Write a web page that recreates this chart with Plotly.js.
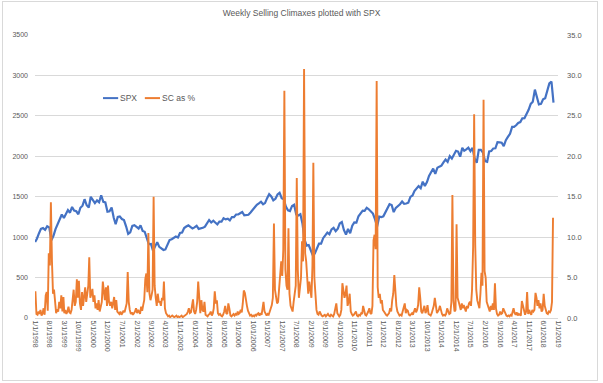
<!DOCTYPE html>
<html>
<head>
<meta charset="utf-8">
<script src="https://cdn.plot.ly/plotly-3.0.1.min.js"></script>
<style>
html,body{margin:0;padding:0;background:#fff;}
#wrap{position:relative;width:603px;height:383px;}
#chart{position:absolute;left:0;top:0;width:603px;height:383px;}
#frame{position:absolute;left:2px;top:1px;width:594px;height:378px;border:1px solid #d9d9d9;pointer-events:none;}
</style>
</head>
<body>
<div id="wrap"><div id="chart"></div><div id="frame"></div></div>
<script>
// ---- Data ----
// SPX, one value per month (month-end), Jan 1998 .. Oct 2018, plus start value
const spxStart = 940;
const spxMonthly = [
  980,1049,1102,1112,1091,1134,1121,960,1017,1099,1164,1229,      // 1998
  1280,1238,1286,1335,1302,1373,1329,1320,1283,1363,1389,1469,    // 1999
  1394,1366,1499,1452,1421,1455,1431,1518,1437,1429,1315,1320,    // 2000
  1366,1240,1160,1249,1256,1224,1211,1134,1041,1060,1139,1148,    // 2001
  1130,1107,1147,1077,1067,990,912,916,830,886,936,880,           // 2002
  856,841,848,917,964,975,990,1008,996,1051,1058,1112,            // 2003
  1131,1145,1126,1107,1121,1141,1102,1104,1115,1130,1174,1212,    // 2004
  1181,1204,1181,1157,1192,1191,1234,1220,1229,1207,1249,1248,    // 2005
  1280,1281,1295,1311,1270,1270,1277,1304,1336,1378,1401,1418,    // 2006
  1438,1407,1421,1482,1531,1503,1455,1474,1527,1549,1481,1468,    // 2007
  1379,1331,1323,1386,1400,1280,1267,1283,1165,969,896,903,       // 2008
  826,770,798,873,919,919,987,1021,1057,1036,1096,1115,           // 2009
  1074,1104,1169,1187,1089,1031,1102,1049,1141,1183,1181,1258,    // 2010
  1286,1327,1326,1364,1345,1321,1292,1219,1131,1253,1247,1258,    // 2011
  1312,1366,1408,1398,1310,1362,1379,1407,1441,1412,1416,1426,    // 2012
  1498,1515,1569,1598,1631,1606,1686,1633,1682,1757,1806,1848,    // 2013
  1783,1859,1872,1884,1924,1960,1931,2003,1972,2018,2068,2059,    // 2014
  1995,2105,2068,2086,2107,2063,2104,1972,1920,2079,2080,2044,    // 2015
  1940,1932,2060,2065,2097,2099,2174,2171,2168,2126,2199,2239,    // 2016
  2279,2364,2363,2384,2412,2423,2470,2472,2519,2575,2648,2674,    // 2017
  2824,2714,2641,2648,2705,2718,2816,2902,2925,2665               // 2018 (Jan-Oct)
];
// Selling climaxes as % (two readings per month: first half, second half)
const scPct = [
  3.3,0.5, 0.4,0.8, 0.5,1.0, 0.3,0.6, 1.2,0.4, 2.8,3.2, 0.9,8.0, 6.5,14.3, 7.0,3.0, 3.5,1.5, 0.6,1.1, 0.8,2.0,   // 1998
  1.2,2.8, 0.8,2.6, 0.6,1.0, 0.5,0.8, 1.4,0.7, 0.6,1.0, 2.2,3.5, 1.5,2.0, 4.8,2.5, 4.6,1.8, 1.0,3.2, 1.5,2.4,   // 1999
  3.8,2.0, 3.2,4.0, 7.5,2.5, 3.0,3.6, 2.0,2.8, 1.2,1.8, 1.0,2.2, 0.8,1.5, 2.0,4.5, 3.0,2.2, 3.8,1.5, 4.0,2.0,   // 2000
  1.5,2.0, 1.2,1.8, 2.6,1.0, 2.2,0.8, 0.6,0.5, 0.8,0.4, 0.6,0.9, 0.7,1.2, 1.8,5.7, 2.0,1.0, 0.5,0.7, 0.4,0.6,   // 2001
  0.8,1.2, 0.6,1.0, 0.7,0.5, 1.4,0.9, 1.6,2.2, 4.8,5.5, 3.2,10.5, 3.0,2.2, 2.8,3.5, 15.0,4.0, 2.5,1.5, 3.0,2.0, // 2002
  2.0,1.5, 2.5,2.2, 4.5,1.2, 0.6,0.4, 0.2,0.3, 0.1,0.2, 0.3,0.2, 0.1,0.2, 0.3,0.1, 0.2,0.1, 0.2,0.3, 0.1,0.2,   // 2003
  0.2,0.3, 0.5,0.8, 1.2,0.6, 0.7,1.5, 2.3,0.8, 0.5,1.0, 2.0,4.5, 1.5,0.6, 2.2,1.0, 0.8,2.0, 0.4,0.3, 0.2,0.4,   // 2004
  0.5,0.8, 0.3,0.6, 1.2,3.3, 1.8,2.2, 0.6,0.4, 0.5,0.3, 0.2,0.4, 0.8,1.5, 0.6,0.5, 1.8,1.2, 0.3,0.2, 0.4,0.5,   // 2005
  0.3,0.5, 0.4,0.8, 0.5,0.6, 1.0,0.7, 1.8,3.4, 3.1,2.0, 1.5,0.9, 0.5,0.3, 0.4,0.2, 0.3,0.2, 0.4,0.3, 0.5,0.6,   // 2006
  0.3,0.6, 0.4,1.4, 2.0,0.8, 0.4,0.3, 0.5,0.4, 0.8,1.2, 1.6,2.5, 11.7,3.5, 2.8,1.8, 2.0,3.6, 4.5,7.0, 5.2,8.4,  // 2007
  28.1,6.0, 4.0,3.5, 11.1,3.0, 1.5,1.0, 0.8,2.0, 3.5,4.0, 17.3,6.0, 2.5,3.8, 5.0,9.5, 7.0,30.8, 8.0,7.0, 4.0,3.0, // 2008
  4.5,3.0, 2.5,6.5, 19.2,5.0, 2.0,1.0, 0.5,0.4, 0.8,0.5, 0.3,0.2, 0.3,0.4, 0.2,0.3, 0.5,0.3, 0.2,0.4, 0.3,0.2,  // 2009
  0.5,1.2, 1.8,0.6, 0.3,0.2, 0.4,1.0, 4.3,3.5, 2.5,3.0, 4.0,1.5, 2.0,3.0, 0.8,0.5, 0.3,0.4, 0.6,0.8, 0.3,0.2,   // 2010
  0.4,0.3, 0.6,0.5, 1.5,0.8, 0.4,0.3, 0.5,0.8, 1.2,0.6, 0.5,1.5, 9.6,10.3, 8.5,29.3, 3.8,2.5, 3.0,1.8, 2.2,1.0, // 2011
  0.8,0.5, 0.4,0.3, 0.5,0.6, 1.2,0.8, 2.2,3.0, 5.3,3.2, 1.5,0.8, 0.5,0.3, 0.4,0.3, 0.8,1.2, 1.8,0.6, 1.0,0.9,   // 2012
  0.4,0.3, 0.5,0.6, 0.4,0.8, 1.2,0.7, 1.0,1.6, 3.8,2.5, 0.8,0.6, 1.0,1.5, 0.6,0.9, 1.6,0.5, 0.4,0.3, 0.6,1.0,   // 2013
  1.5,2.5, 1.2,0.6, 0.8,1.0, 1.5,0.8, 0.5,0.3, 0.4,0.3, 0.5,1.2, 0.8,0.5, 0.6,2.0, 15.2,2.2, 0.8,1.0, 11.6,2.5, // 2014
  2.0,1.5, 1.0,1.8, 1.2,1.6, 1.0,0.8, 1.5,1.2, 1.8,2.0, 1.5,3.5, 8.8,25.2, 9.0,3.5, 2.2,1.5, 1.2,3.0, 5.6,4.0,  // 2015
  27.0,5.8, 5.0,2.0, 1.5,1.2, 0.8,1.5, 1.0,1.8, 1.0,4.3, 1.2,0.5, 0.3,0.4, 0.8,0.5, 0.6,1.2, 0.8,0.4, 0.3,0.2,  // 2016
  0.3,0.2, 0.4,0.3, 0.8,1.2, 0.6,0.4, 0.7,0.3, 0.5,0.4, 0.3,2.1, 1.5,0.6, 0.4,0.8, 3.2,0.5, 1.0,0.6, 0.4,1.0,   // 2017
  0.8,1.0, 3.1,2.5, 1.5,2.2, 1.2,1.8, 0.8,1.0, 3.0,1.5, 0.8,0.6, 0.5,0.8, 0.7,1.0, 2.0,12.4                    // 2018 (Jan-Oct)
];
const xTickLabels = [
  '1/1/1998','8/1/1998','3/1/1999','10/1/1999','5/1/2000','12/1/2000','7/1/2001',
  '2/1/2002','9/1/2002','4/1/2003','11/1/2003','6/1/2004','1/1/2005','8/1/2005',
  '3/1/2006','10/1/2006','5/1/2007','12/1/2007','7/1/2008','2/1/2009','9/1/2009',
  '4/1/2010','11/1/2010','6/1/2011','1/1/2012','8/1/2012','3/1/2013','10/1/2013',
  '5/1/2014','12/1/2014','7/1/2015','2/1/2016','9/1/2016','4/1/2017','11/1/2017',
  '6/1/2018','1/1/2019'
];
const seriesNames = ['SPX', 'SC as %'];
const seriesColors = ['#4472c4', '#ed7d31'];
const startYear = 1998;

// ---- Build dates ----
function pad(n){return (n<10?'0':'')+n;}
const spxX = ['1998-01-02'], spxY = [spxStart];
spxMonthly.forEach((v,i)=>{
  const y = startYear + Math.floor(i/12), m = i%12 + 1;
  spxX.push(y+'-'+pad(m)+'-28'); spxY.push(v);
});
const scX = [];
scPct.forEach((v,i)=>{
  const mi = Math.floor(i/2), y = startYear + Math.floor(mi/12), m = mi%12 + 1;
  scX.push(y+'-'+pad(m)+'-'+(i%2===0?'06':'21'));
});
const tickVals = xTickLabels.map(s=>{const p=s.split('/');return p[2]+'-'+pad(+p[0])+'-'+pad(+p[1]);});

const font = 'Liberation Sans, Arial, sans-serif';
const grey = '#595959';
const data = [
  {x: spxX, y: spxY, type:'scatter', mode:'lines', name:seriesNames[0],
   line:{color:seriesColors[0], width:2.2}, yaxis:'y'},
  {x: scX, y: scPct, type:'scatter', mode:'lines', name:seriesNames[1],
   line:{color:seriesColors[1], width:1.9}, yaxis:'y2'}
];

// Legend drawn inside the plot (short Excel-style line samples)
const legY = 0.777;
const legItems = [{x0:0.130, x1:0.159, tx:0.161}, {x0:0.210, x1:0.239, tx:0.241}];
const shapes = legItems.map((it,i)=>({type:'line', xref:'paper', yref:'paper',
  x0:it.x0, x1:it.x1, y0:legY, y1:legY, line:{color:seriesColors[i], width:2}}));
const annotations = legItems.map((it,i)=>({xref:'paper', yref:'paper', x:it.tx, y:legY,
  xanchor:'left', yanchor:'middle', showarrow:false, text:seriesNames[i],
  font:{family:font, size:8.5, color:grey}, borderpad:0}));

const layout = {
  width:603, height:383,
  margin:{l:35, r:45, t:35, b:65, pad:0},
  paper_bgcolor:'#fff', plot_bgcolor:'#fff',
  font:{family:font, size:7, color:grey},
  title:{text:'Weekly Selling Climaxes plotted with SPX', font:{family:font, size:8.5, color:grey},
         x:0.5, xanchor:'center', y:0.965, yanchor:'middle'},
  showlegend:false,
  shapes: shapes,
  annotations: annotations,
  xaxis:{type:'date', range:['1997-12-31','2019-01-02'], tickvals:tickVals, ticktext:xTickLabels,
         tickangle:90, showgrid:false, showline:true, linecolor:'#d9d9d9', linewidth:1,
         ticks:'', tickfont:{family:font, size:7, color:grey}, zeroline:false},
  yaxis:{range:[0,3500], tickvals:[0,500,1000,1500,2000,2500,3000,3500], tickformat:'d',
         showgrid:true, gridcolor:'#d9d9d9', gridwidth:1, zeroline:false, ticks:'',
         tickfont:{family:font, size:7, color:grey}, ticklabelstandoff:6},
  yaxis2:{range:[0,35], overlaying:'y', side:'right', tickvals:[0,5,10,15,20,25,30,35],
          tickformat:'.1f', ticksuffix:'%', showgrid:false, zeroline:false, ticks:'',
          tickfont:{family:font, size:7.5, color:grey}, ticklabelstandoff:8}
};
Plotly.newPlot('chart', data, layout, {displayModeBar:false, staticPlot:true});
</script>
</body>
</html>
